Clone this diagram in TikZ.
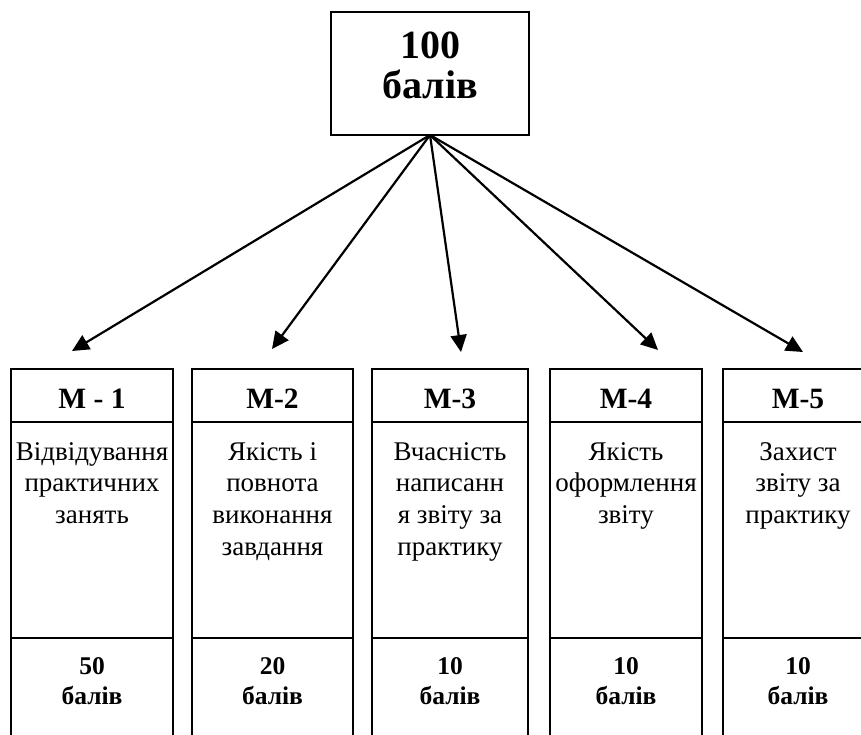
\documentclass[tikz,border=0pt]{standalone}
\usepackage{fontspec}
\setmainfont{Liberation Serif}
\usetikzlibrary{arrows.meta, positioning}

\tikzset{
  frame/.style={draw, line width=1.8pt, inner sep=0pt, outer sep=0pt},
  toptext/.style={font=\bfseries\fontsize{40}{40}\selectfont, align=center, inner sep=0pt},
  headtext/.style={font=\bfseries\fontsize{29.5}{32}\selectfont, inner sep=0pt},
  desctext/.style={font=\fontsize{27}{31.7}\selectfont, align=center, anchor=north, inner sep=0pt},
  scoretext/.style={font=\bfseries\fontsize{25.5}{30}\selectfont, align=center, anchor=north, inner sep=0pt},
  link/.style={-{Triangle[length=17pt,width=16pt]}, line width=2.2pt},
}

\begin{document}
\begin{tikzpicture}[x=1pt,y=-1pt]

        % Рамка малюнка
        \useasboundingbox (0,0) rectangle (861,735);
        \clip (0,0) rectangle (861,735);

        % Загальна кількість балів
        \node[frame, line width=1.5pt, minimum width=198pt, minimum height=123pt] (total) at (430,73.5) {};
        \node[toptext, anchor=north] (totaltext) at ([yshift=-20pt]total.north) {100\\балів};

        % Модулі
        \foreach \i/\lft/\colw/\mname/\txt/\pts/\tx/\ty in {
            1/11/162/{M - 1}/{Відвідування\\практичних\\занять}/50/72/351,
            2/192/161/{M-2}/{Якість і\\повнота\\виконання\\завдання}/20/272/349,
            3/372/156/{M-3}/{Вчасність\\написанн\\я звіту за\\практику}/10/461/352,
            4/550/152/{M-4}/{Якість\\оформлення\\звіту}/10/658/350,
            5/723/150/{M-5}/{Захист\\звіту за\\практику}/10/803/352} {
          \node[frame, anchor=north west, minimum width=\colw pt, minimum height=53pt] (head\i) at (\lft,369) {};
          \node[headtext] (headtext\i) at ([yshift=-3pt]head\i.center) {\mname};
          \node[frame, below=0pt of head\i, minimum width=\colw pt, minimum height=216pt] (desc\i) {};
          \node[desctext] (desctext\i) at ([yshift=-20pt]desc\i.north) {\txt};
          \node[frame, below=0pt of desc\i, minimum width=\colw pt, minimum height=120pt] (score\i) {};
          \node[scoretext] (scoretext\i) at ([yshift=-19pt]score\i.north) {\pts\\балів};
          \coordinate (tip\i) at (\tx,\ty);
          \draw[link] (total.south) -- (tip\i);
        }

\end{tikzpicture}
\end{document}
